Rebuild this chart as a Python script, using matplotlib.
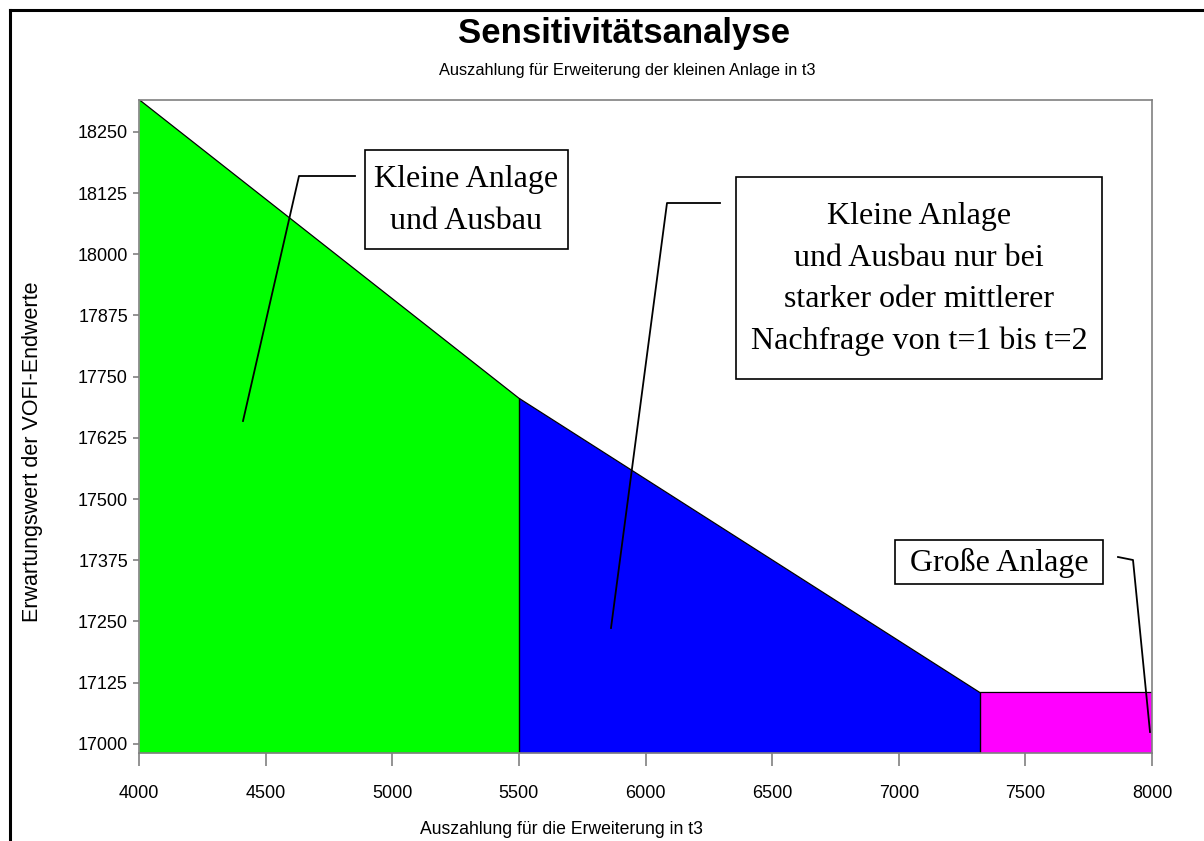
import matplotlib.pyplot as plt
from matplotlib.lines import Line2D
from matplotlib.patches import Rectangle

# Bereiche der optimalen Strategie (Auszahlung in t3 -> Erwartungswert)
x_klein = [4000, 5500]
y_klein = [18316, 17706]
x_mittel = [5500, 7320]
y_mittel = [17706, 17105]
x_gross = [7320, 8000]
y_gross = [17105, 17105]
y_min, y_max = 16982, 18316

x_ticks = list(range(4000, 8001, 500))
y_ticks = list(range(17000, 18251, 125))

W, H = 1204, 841
fig = plt.figure(figsize=(W / 100, H / 100), dpi=100)
ax = fig.add_axes([139 / W, 1 - 752.7 / H, (1152 - 139) / W, (752.7 - 99.5) / H])

ax.fill_between(x_klein, y_klein, y_min, color='#00ff00', lw=0)
ax.fill_between(x_mittel, y_mittel, y_min, color='#0000ff', lw=0)
ax.fill_between(x_gross, y_gross, y_min, color='#ff00ff', lw=0)
ax.plot(x_klein + x_mittel + x_gross, y_klein + y_mittel + y_gross, color='black', lw=0.9)
ax.vlines([x_mittel[0], x_gross[0]], y_min, [y_mittel[0], y_gross[0]], color='black', lw=1.0)

ax.set_xlim(4000, 8000)
ax.set_ylim(y_min, y_max)
ax.set_xticks(x_ticks)
ax.set_yticks(y_ticks)
for s in ax.spines.values():
    s.set_color('#808080')
    s.set_linewidth(1.2)
ax.tick_params(axis='x', length=9, width=1.2, color='#808080', pad=14, labelsize=13)
ax.tick_params(axis='y', length=4, width=1.2, color='#808080', pad=4, labelsize=13)
for lab in ax.get_xticklabels() + ax.get_yticklabels():
    lab.set_fontfamily('Liberation Sans')

sans = 'Liberation Sans'
serif = 'Liberation Serif'

def px(x, y):
    return x / W, 1 - y / H

fig.text(*px(624, 33), 'Sensitivitätsanalyse', ha='center', va='center',
         fontsize=25, fontweight='bold', family=sans)
fig.text(*px(627, 70), 'Auszahlung für Erweiterung der kleinen Anlage in t3', ha='center',
         va='center', fontsize=11.8, family=sans)
fig.text(*px(561, 829), 'Auszahlung für die Erweiterung in t3', ha='center', va='center',
         fontsize=12.7, family=sans)
fig.text(*px(33, 452), 'Erwartungswert der VOFI-Endwerte', ha='center', va='center',
         rotation=90, fontsize=15.5, family=sans)

# Rahmen um die Grafik
fig.add_artist(Line2D([9.7 / W, 9.7 / W], [0, 1 - 9.7 / H], color='black', lw=2.2,
                      transform=fig.transFigure, solid_capstyle='projecting'))
fig.add_artist(Line2D([9.7 / W, 1], [1 - 9.7 / H, 1 - 9.7 / H], color='black', lw=2.2,
                      transform=fig.transFigure, solid_capstyle='projecting'))

# Beschriftungsfelder
boxes = [
    ((365, 150, 568, 249), 'Kleine Anlage\nund Ausbau'),
    ((736, 177, 1102, 379), 'Kleine Anlage\nund Ausbau nur bei\nstarker oder mittlerer\nNachfrage von t=1 bis t=2'),
    ((895, 540, 1103, 584), 'Große Anlage'),
]
for (x0, y0, x1, y1), txt in boxes:
    fig.add_artist(Rectangle(px(x0, y1), (x1 - x0) / W, (y1 - y0) / H, transform=fig.transFigure,
                             facecolor='white', edgecolor='black', lw=1.2))
    fig.text(*px((x0 + x1) / 2, (y0 + y1) / 2 + 1), txt, ha='center', va='center',
             fontsize=23, family=serif, linespacing=1.55)

leaders = [
    [(355, 176), (299, 176), (243, 421)],
    [(720, 203), (667, 203), (611, 628)],
    [(1118, 557), (1133, 560), (1150, 732)],
]
for pts in leaders:
    xs = [p[0] / W for p in pts]
    ys = [1 - p[1] / H for p in pts]
    fig.add_artist(Line2D(xs, ys, color='black', lw=1.3, transform=fig.transFigure))

fig.savefig('out.png', dpi=100)
